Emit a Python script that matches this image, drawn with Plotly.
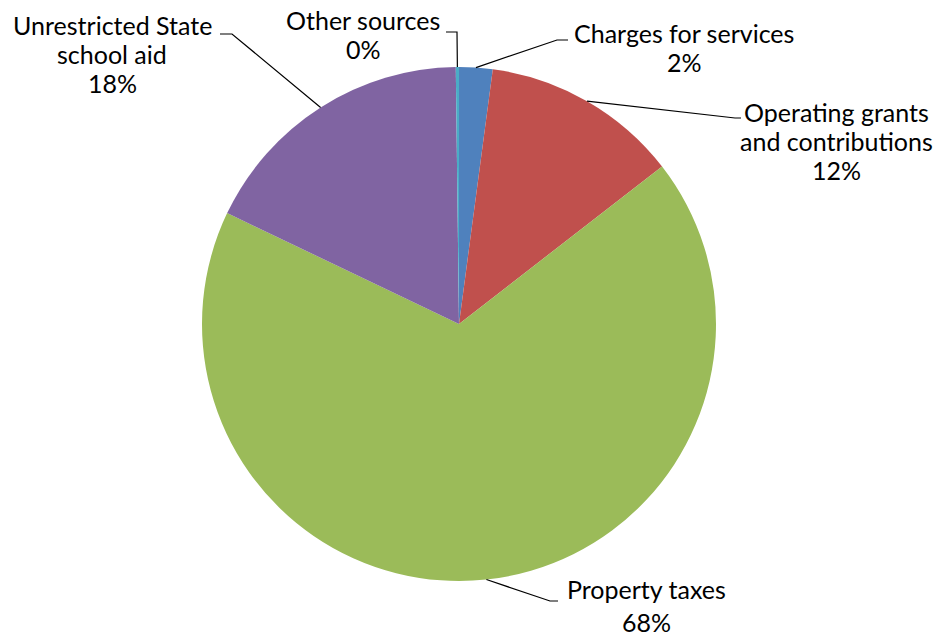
import math
import plotly.graph_objects as go

labels = ["Charges for services", "Operating grants and contributions", "Property taxes",
          "Unrestricted State school aid", "Other sources"]
label_lines = [["Charges for services", "2%"],
               ["Operating grants", "and contributions", "12%"],
               ["Property taxes", "68%"],
               ["Unrestricted State", "school aid", "18%"],
               ["Other sources", "0%"]]
values = [2.1, 12.4, 67.6, 17.7, 0.2]
colors = ["#4F81BD", "#C0504D", "#9BBB59", "#8064A2", "#4BACC6"]

W, H = 940, 638
CX, CY, R = 459, 324, 257
LINE_GAP = 29

# label placement (pixels): text center x, first-line center y, elbow point, end of leader
label_pos = [
    dict(tx=684, ty=33, elbow=(557, 40), end=(568, 40)),
    dict(tx=836, ty=112, elbow=(735, 118), end=(741, 118)),
    dict(tx=646, ty=None, elbow=(550, 601), end=(558, 601)),
    dict(tx=112, ty=25, elbow=(232, 34), end=(220, 34)),
    dict(tx=363, ty=20, elbow=(457, 32), end=(446, 32)),
]

def px(x):
    return x / W

def py(y):
    return 1 - y / H

fig = go.Figure(go.Pie(
    labels=labels, values=values, sort=False, direction="clockwise", rotation=0,
    marker=dict(colors=colors, line=dict(width=0)),
    textinfo="none", hoverinfo="label+percent", showlegend=False,
    domain=dict(x=[px(CX - R), px(CX + R)], y=[py(CY + R), py(CY - R)]),
))

font = dict(family="Lato", size=25, color="black")
total = sum(values)
cum = 0
shapes = []
annotations = []
for v, lines, lp in zip(values, label_lines, label_pos):
    mid = (cum + v / 2) / total * 2 * math.pi
    cum += v
    sx = CX + R * math.sin(mid)
    sy = CY - R * math.cos(mid)
    ex, ey = lp["elbow"]
    fx, fy = lp["end"]
    shapes.append(dict(type="path", xref="paper", yref="paper",
                       path=f"M {px(sx)},{py(sy)} L {px(ex)},{py(ey)} L {px(fx)},{py(fy)}",
                       line=dict(color="black", width=1.2)))
    if lp["ty"] is None:
        # label sitting on the bottom edge of the picture
        annotations.append(dict(x=px(lp["tx"]), y=0, xref="paper", yref="paper",
                                text="<br>".join(lines), showarrow=False,
                                xanchor="center", yanchor="bottom", align="center",
                                borderpad=0, font=font))
        continue
    for i, line in enumerate(lines):
        annotations.append(dict(x=px(lp["tx"]), y=py(lp["ty"] + i * LINE_GAP),
                                xref="paper", yref="paper",
                                text=line, showarrow=False, xanchor="center", yanchor="middle",
                                align="center", borderpad=0, font=font))

fig.update_layout(width=W, height=H, margin=dict(l=0, r=0, t=0, b=0),
                  paper_bgcolor="white", plot_bgcolor="white",
                  shapes=shapes, annotations=annotations)

fig.write_html("out.html")
